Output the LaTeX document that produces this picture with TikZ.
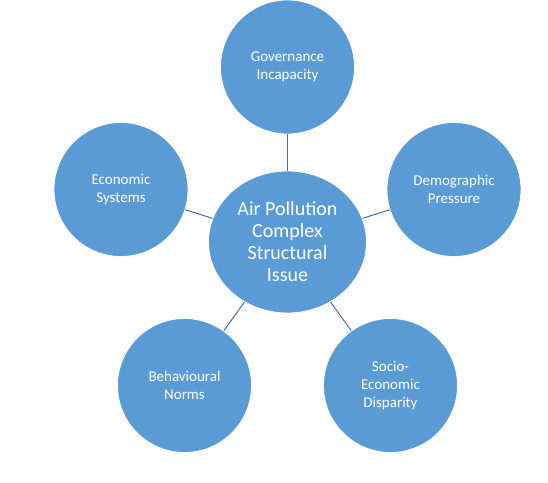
\documentclass[tikz,border=0pt]{standalone}
\usepackage{fontspec}
\setmainfont{Carlito}
\usetikzlibrary{shapes.geometric}
\definecolor{nodeblue}{HTML}{5B9BD5}
\definecolor{linkblue}{HTML}{41719C}
\tikzset{
  outer/.style={circle, fill=nodeblue, draw=white, line width=0.8pt, minimum size=134pt, inner sep=0pt, text=white, align=center, font=\fontsize{15}{18}\selectfont},
  hub/.style={ellipse, fill=nodeblue, draw=white, line width=0.8pt, minimum width=158pt, minimum height=142pt, inner sep=0pt, text=white, align=center, font=\fontsize{20}{22}\selectfont},
  link/.style={draw=linkblue, line width=1pt}
}
\begin{document}
\begin{tikzpicture}[x=1pt,y=-1pt]
\useasboundingbox (0,0) rectangle (548,482);
\node[hub] (c) at (287.5,242) {Air Pollution\\Complex\\Structural\\Issue};
\node[outer] (g) at (287.5,67) {Governance\\Incapacity};
\node[outer] (d) at (454,189.5) {Demographic\\Pressure};
\node[outer] (e) at (121,189.5) {Economic\\Systems};
\node[outer] (b) at (184.5,385.5) {Behavioural\\Norms};
\node[outer] (s) at (390.5,385.5) {Socio-\\Economic\\Disparity};
\draw[link] (c) -- (g);
\draw[link] (c) -- (d);
\draw[link] (c) -- (e);
\draw[link] (c) -- (b);
\draw[link] (c) -- (s);
\end{tikzpicture}
\end{document}
